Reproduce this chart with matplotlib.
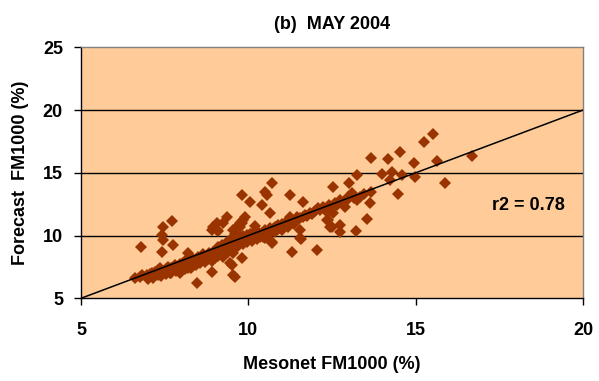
import matplotlib
matplotlib.use("Agg")
import matplotlib.pyplot as plt

plt.rcParams['font.family'] = ['Liberation Sans', 'DejaVu Sans']
plt.rcParams['font.weight'] = 'bold'
plt.rcParams['axes.labelweight'] = 'bold'
plt.rcParams['axes.titleweight'] = 'bold'

# mesonet (x) vs forecast (y) FM1000
band_x = [6.61, 6.75, 6.81, 6.96, 7.05, 7.11, 7.20, 7.26, 7.30, 7.36, 7.45, 7.51, 7.55, 7.61,
          7.66, 7.70, 7.75, 7.81, 7.85, 7.91, 7.95, 8.00, 8.06, 8.10, 8.16, 8.20, 8.25, 8.31,
          8.35, 8.40, 8.46, 8.50, 8.55, 8.61, 8.65, 8.71, 8.75, 8.81, 8.85, 8.90, 8.95, 9.00,
          9.05, 9.10, 9.15, 9.20, 9.25, 9.35, 9.40, 9.50, 9.55, 9.65, 9.70, 9.75, 9.80, 9.85,
          9.95, 10.00, 10.05, 10.15, 10.20, 10.30, 10.35, 10.40, 10.50, 10.55, 10.65, 10.75,
          10.80, 10.90, 10.95, 11.00, 11.10, 11.15, 11.24, 11.30, 11.44, 11.44, 11.55, 11.64,
          11.69, 11.75, 11.84, 11.90, 12.00, 12.09, 12.15, 12.24, 12.34, 12.40, 12.50, 12.59,
          12.65, 12.74, 12.80, 12.89, 12.95, 12.99, 13.09, 13.15, 13.24, 13.34, 13.45]
band_y = [6.59, 6.72, 6.86, 6.86, 6.90, 6.99, 7.10, 7.12, 7.25, 7.39, 7.20, 7.12, 7.35, 7.52,
          6.99, 7.40, 7.30, 7.65, 7.50, 7.39, 7.70, 7.60, 7.79, 7.95, 8.05, 7.70, 8.00, 7.79,
          8.10, 7.90, 8.05, 8.30, 8.15, 8.31, 8.50, 8.05, 8.40, 8.59, 8.30, 8.50, 8.71, 8.60,
          8.95, 9.11, 8.80, 9.25, 9.00, 9.51, 9.20, 9.78, 9.40, 9.51, 9.70, 9.91, 9.60, 10.00,
          10.04, 9.80, 10.10, 10.18, 10.00, 10.30, 9.91, 10.20, 10.44, 10.30, 10.58, 10.50,
          10.70, 10.84, 10.60, 10.90, 10.98, 11.10, 11.50, 11.20, 11.24, 11.50, 11.40, 11.50,
          11.64, 11.55, 11.77, 11.70, 11.95, 12.17, 12.00, 12.30, 11.90, 12.40, 12.30, 12.57,
          12.40, 12.83, 12.60, 12.30, 12.80, 13.10, 13.37, 13.00, 12.83, 13.10, 13.30]

# lower edge of the dense band
low_x = [7.00, 7.15, 7.30, 7.40, 7.55, 7.70, 7.85, 7.95, 8.10, 8.20, 8.30, 8.45, 8.55, 8.70,
         8.80, 8.90, 9.00, 9.10, 9.20, 9.30, 9.40, 9.45, 9.60, 9.70, 9.85, 9.95, 10.10, 10.25,
         10.45, 10.60, 10.80, 11.00, 11.20, 11.35]
low_y = [6.50, 6.60, 6.85, 6.75, 6.90, 7.05, 7.20, 7.05, 7.35, 7.45, 7.40, 7.65, 7.80, 7.90,
         8.10, 8.00, 8.25, 8.40, 8.55, 8.70, 8.65, 8.90, 9.00, 9.20, 9.35, 9.45, 9.60, 9.70,
         9.90, 10.05, 10.25, 10.45, 10.70, 10.90]

scatter_x = [6.78, 7.46, 7.71, 7.41, 7.46, 7.76, 7.41, 8.21, 8.95, 9.05, 8.90, 8.46, 9.05, 9.55,
             9.75, 9.85, 9.35, 9.90, 9.80, 10.05, 10.50, 10.70, 10.55, 10.40, 10.65, 11.24,
             11.29, 9.55, 9.80, 9.50, 9.55, 9.25, 13.24, 13.98, 12.54, 13.02, 11.64, 13.68,
             13.63, 13.55, 12.54, 12.44, 12.74, 12.74, 13.22, 11.54, 11.54, 12.04, 15.51, 15.26,
             14.53, 14.18, 14.95, 14.28, 14.58, 14.98, 15.63, 14.48, 15.88, 16.69, 13.68, 14.23,
             12.39, 10.70, 9.65, 9.80, 10.20, 10.70, 8.90, 9.10, 9.25, 9.65, 9.75, 9.60, 10.35,
             10.50, 11.56, 12.34, 12.49, 9.60, 9.45]
scatter_y = [9.11, 10.71, 11.16, 10.04, 9.65, 9.25, 8.71, 8.59, 10.71, 10.98, 7.12, 6.20, 10.44,
             10.44, 10.71, 11.24, 11.50, 11.50, 13.23, 12.70, 13.50, 14.16, 13.23, 12.43, 11.77,
             13.23, 8.71, 6.86, 8.19, 7.65, 8.59, 8.31, 14.83, 14.90, 13.89, 14.21, 12.70, 13.50,
             12.57, 11.30, 11.77, 10.71, 10.84, 10.31, 10.39, 10.44, 9.78, 8.85, 18.09, 17.48,
             16.68, 16.08, 15.80, 15.09, 14.83, 14.64, 15.96, 13.31, 14.16, 16.34, 16.20, 14.43,
             11.24, 9.38, 10.71, 10.98, 10.80, 9.51, 10.44, 10.40, 10.98, 10.71, 10.98, 10.10,
             10.04, 9.78, 9.70, 11.24, 10.71, 6.72, 7.79]

mesonet = band_x + low_x + scatter_x
forecast = band_y + low_y + scatter_y
one_to_one = [5, 20]

fig = plt.figure(figsize=(5.99, 3.81), dpi=100)
ax = fig.add_axes([81/599, 1 - 298.3/381, 502/599, 251/381])
ax.set_facecolor('#FFCC99')

for g in [10, 15, 20]:
    ax.axhline(g, color='black', lw=1.0, zorder=1)

ax.plot(mesonet, forecast, linestyle='none', marker='D', markersize=5.8,
        color='#993300', markeredgewidth=0, zorder=2)
ax.plot(one_to_one, one_to_one, color='black', lw=1.1, zorder=3)

ax.text(18.36, 12.43, 'r2 = 0.78', fontsize=13, ha='center', va='center')

ax.set_xlim(5, 20)
ax.set_ylim(5, 25)
ax.set_xticks([5, 10, 15, 20])
ax.set_yticks([5, 10, 15, 20, 25])
ax.tick_params(direction='out', length=5, width=1, labelsize=13)
ax.tick_params(axis='x', pad=12)
ax.tick_params(axis='y', pad=8)
for s in ['left', 'bottom']:
    ax.spines[s].set_color('black')
    ax.spines[s].set_linewidth(1.0)
for s in ['top', 'right']:
    ax.spines[s].set_color('#808080')
    ax.spines[s].set_linewidth(1.0)

ax.set_xlabel('Mesonet FM1000 (%)', fontsize=13, labelpad=12)
ax.set_ylabel('Forecast  FM1000 (%)', fontsize=13, labelpad=10)
ax.set_title('(b)  MAY 2004', fontsize=13, pad=13)

fig.savefig('out.png', dpi=100)
